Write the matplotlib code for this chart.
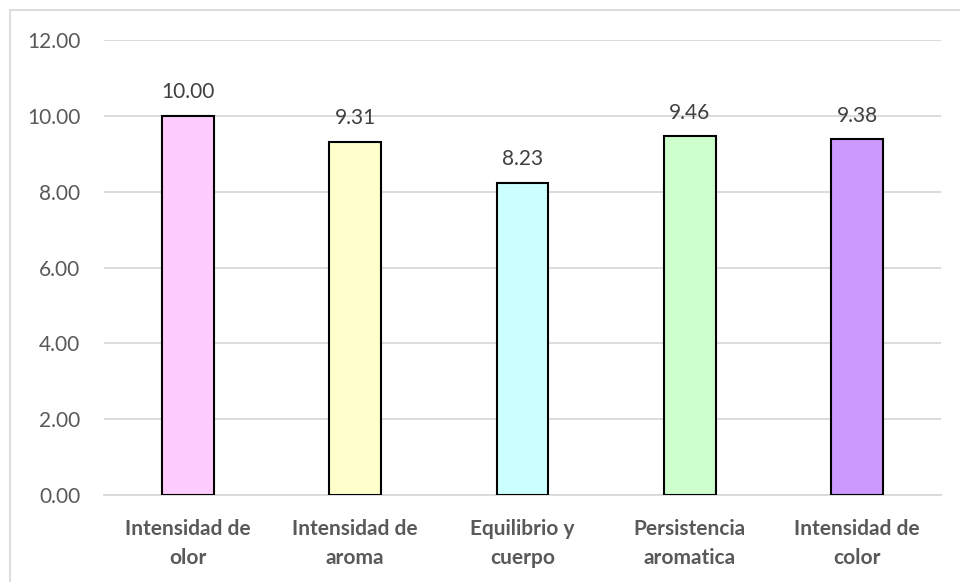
import matplotlib
matplotlib.use("Agg")
import matplotlib.pyplot as plt
from matplotlib.patches import Rectangle

categories = ["Intensidad de\nolor", "Intensidad de\naroma", "Equilibrio y\ncuerpo",
              "Persistencia\naromatica", "Intensidad de\ncolor"]
values = [10.00, 9.31, 8.23, 9.46, 9.38]
colors = ["#FFCCFF", "#FFFFCC", "#CCFFFF", "#CCFFCC", "#CC99FF"]
yticks = [0, 2, 4, 6, 8, 10, 12]

plt.rcParams['font.family'] = ['Lato', 'DejaVu Sans']
fig = plt.figure(figsize=(9.6, 5.82), dpi=100)
ax = fig.add_axes([104/960, 1-495/582, 837/960, (495-40)/582])

x = list(range(len(categories)))
bars = ax.bar(x, values, width=0.31, color=colors, edgecolor="black", linewidth=1.5, zorder=3)
for xi, v in zip(x, values):
    ax.text(xi, v + 0.36, f"{v:.2f}", ha="center", va="bottom", fontsize=15, color="#404040")

ax.set_xlim(-0.5, 4.5)
ax.set_ylim(0, 12)
ax.set_yticks(yticks)
ax.set_yticklabels([f"{t:.2f}" for t in yticks], fontsize=15, color="#595959")
ax.set_xticks(x)
ax.set_xticklabels(categories, fontsize=15, fontweight="bold", color="#595959", linespacing=1.6)
ax.tick_params(axis="both", length=0)
ax.tick_params(axis="x", pad=17)
ax.tick_params(axis="y", pad=17)
ax.grid(axis="y", color="#D9D9D9", linewidth=1.3, zorder=0)
for s in ["top", "right", "left"]:
    ax.spines[s].set_visible(False)
ax.spines["bottom"].set_color("#D9D9D9")
ax.spines["bottom"].set_linewidth(1.3)

fig.patches.append(Rectangle((10/960, -0.1), 1.2, 1.1 - 10/582, transform=fig.transFigure,
                             fill=False, edgecolor="#D9D9D9", linewidth=1.3))

fig.savefig("out.png", dpi=100)
